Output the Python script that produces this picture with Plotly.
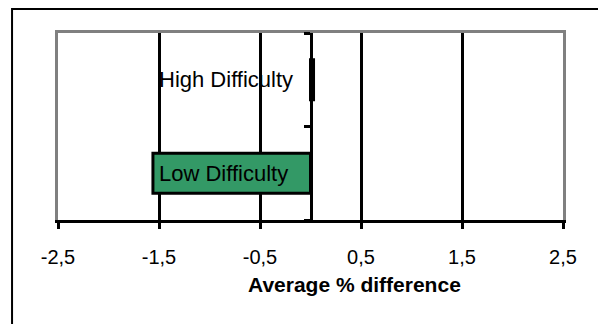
import plotly.graph_objects as go

# data
categories = ["Low Difficulty", "High Difficulty"]
avg_diff = [-1.56, 0.03]
x_ticks = [-2.5, -1.5, -0.5, 0.5, 1.5, 2.5]
x_tick_labels = ["-2,5", "-1,5", "-0,5", "0,5", "1,5", "2,5"]

FONT = "Liberation Sans, Arial, sans-serif"
GREEN = "#339966"
GRAY = "#808080"

fig = go.Figure()

fig.add_trace(
    go.Bar(
        x=avg_diff,
        y=categories,
        orientation="h",
        marker=dict(color=GREEN, line=dict(color="black", width=3)),
        hoverinfo="x+y",
        showlegend=False,
    )
)

# category labels written inside the plot area, like the original
for cat in categories:
    fig.add_annotation(
        x=-1.5, y=cat, xref="x", yref="y", xshift=-2,
        text=cat, showarrow=False, xanchor="left", yanchor="middle",
        font=dict(family=FONT, size=22, color="black"),
    )

# axis title, sitting right of centre as in the reference
fig.add_annotation(
    x=0.588, y=-0.275, xref="paper", yref="paper",
    text="<b>Average % difference</b>", showarrow=False,
    xanchor="center", yanchor="top",
    font=dict(family=FONT, size=21, color="black"),
)

# outer frame of the chart area
fig.add_shape(
    type="rect", xref="paper", yref="paper",
    x0=-0.091, x1=1.079, y0=-0.8, y1=1.128,
    line=dict(color="black", width=2), layer="below",
)

# the page body adds an 8px margin, so the figure is 8px smaller each way
fig.update_layout(
    width=598,
    height=316,
    margin=dict(l=50, r=43, t=25, b=104),
    paper_bgcolor="white",
    plot_bgcolor="white",
    bargap=0.57,
    font=dict(family=FONT, size=20, color="black"),
    xaxis=dict(
        range=[-2.5, 2.5],
        tickvals=x_ticks,
        ticktext=x_tick_labels,
        showgrid=True, gridcolor="black", gridwidth=3,
        zeroline=False,
        showline=True, linecolor="black", linewidth=3,
        ticks="outside", ticklen=6, tickwidth=3, tickcolor="black",
        ticklabelstandoff=11,
        tickfont=dict(family=FONT, size=20, color="black"),
    ),
    # top grey border
    xaxis2=dict(
        range=[-2.5, 2.5], overlaying="x", side="top", anchor="y",
        showgrid=False, zeroline=False, showticklabels=False, ticks="",
        showline=True, linecolor=GRAY, linewidth=3,
    ),
    yaxis=dict(
        type="category",
        categoryorder="array", categoryarray=categories,
        showgrid=False, zeroline=False, showticklabels=False, ticks="",
        showline=True, mirror=True, linecolor=GRAY, linewidth=3,
    ),
    # vertical axis crossing at zero, ticks on category boundaries
    yaxis2=dict(
        overlaying="y", anchor="free", position=0.5, side="left",
        range=[-0.5, 1.5], tickvals=[-0.5, 0.5, 1.5],
        showgrid=False, zeroline=False, showticklabels=False,
        ticks="outside", ticklen=6, tickwidth=3, tickcolor="black",
        showline=True, linecolor="black", linewidth=3,
    ),
)

# invisible trace so the overlay axes get drawn
fig.add_trace(go.Scatter(x=[None], y=[None], xaxis="x2", yaxis="y2",
                         showlegend=False, hoverinfo="skip"))

fig.write_html("out.html")
